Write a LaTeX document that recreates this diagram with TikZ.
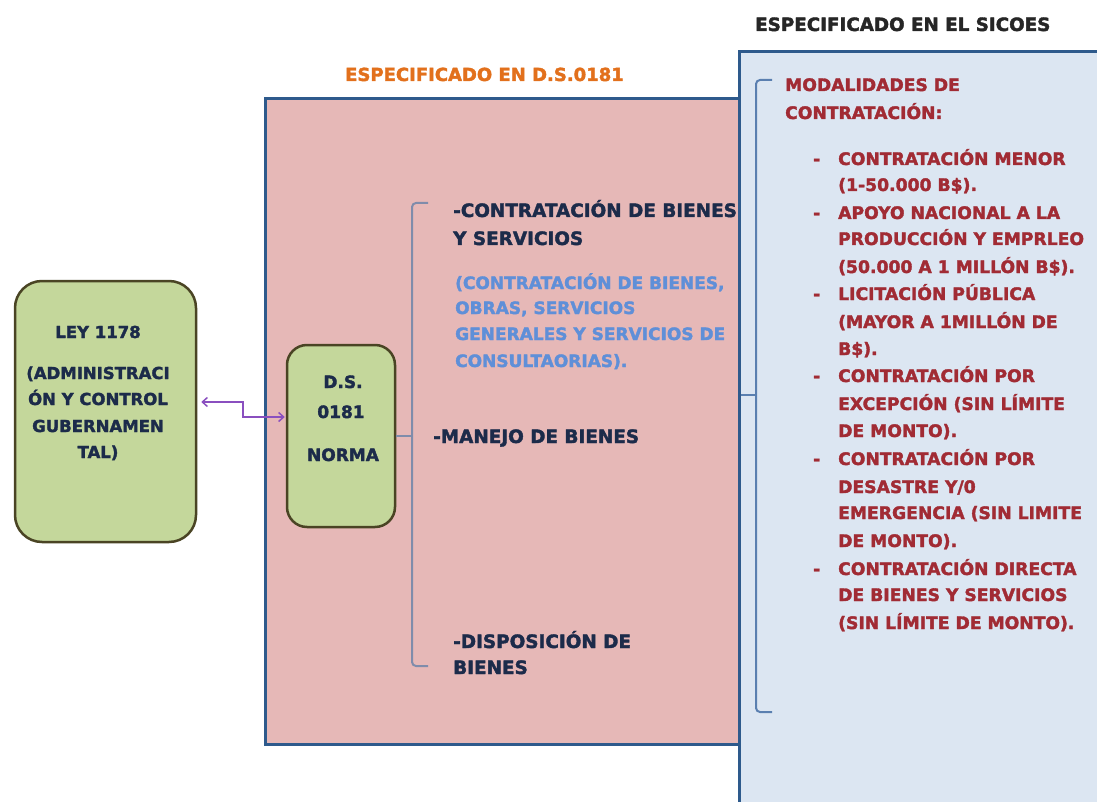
\documentclass[tikz,border=0pt]{standalone}
\usepackage{fontspec}
\setmainfont{DejaVu Sans}[BoldFeatures={FakeBold=2}]
\usetikzlibrary{arrows.meta,calc}
\definecolor{navy}{HTML}{1C2B4A}
\definecolor{lblue}{HTML}{5F8FD8}
\definecolor{dred}{HTML}{A12B34}
\definecolor{orng}{HTML}{E2701C}
\definecolor{pinkf}{HTML}{E6B8B7}
\definecolor{bluef}{HTML}{DCE6F2}
\definecolor{greenf}{HTML}{C4D79B}
\definecolor{greenb}{HTML}{4A4424}
\definecolor{rectb}{HTML}{2E5A8C}
\definecolor{brkp}{HTML}{7F8CAB}
\definecolor{brkb}{HTML}{5A7FB0}
\definecolor{purp}{HTML}{8A4FBF}
\newcommand{\Tx}[5]{\node[#4, anchor=base west] (#1) at (#2,-#3-6) {#5};}
\newcommand{\Tc}[5]{\node[#4, anchor=base] (#1) at (#2,-#3-6) {#5};}
\tikzset{
  txt/.style={inner sep=0pt, font=\bfseries\fontsize{16}{18}\selectfont},
  navytxt/.style={txt, text=navy, font=\bfseries\fontsize{18.4}{20}\selectfont},
  leytxt/.style={txt, text=navy, font=\bfseries\fontsize{16.5}{18}\selectfont},
  dstxt/.style={txt, text=navy, font=\bfseries\fontsize{17}{18}\selectfont},
  lbtxt/.style={txt, text=lblue, font=\bfseries\fontsize{17}{18}\selectfont},
  redtxt/.style={txt, text=dred, font=\bfseries\fontsize{17.2}{18}\selectfont},
  greenbox/.style={draw=greenb, line width=2.5pt, fill=greenf},
  bigrect/.style={draw=rectb, line width=3pt},
  brkp/.style={draw=brkp, line width=2pt, rounded corners=4pt},
  brkb/.style={draw=brkb, line width=2pt, rounded corners=4pt},
  arr/.style={draw=purp, line width=1.5pt, {Straight Barb[length=5pt,width=9pt]}-{Straight Barb[length=5pt,width=9pt]}}
}
\begin{document}
\begin{tikzpicture}[x=1pt,y=1pt]
\useasboundingbox (0,0) rectangle (1097,-802);
\begin{scope}
\clip (0,0) rectangle (1097,-802);
% big rectangles
\path[bigrect, fill=pinkf] (265,-99) rectangle (739,-744);
\path[bigrect, fill=bluef] (739,-52) rectangle (1110,-815);
\end{scope}
% titles
\Tx{t1}{345}{75}{txt, text=orng, font=\bfseries\fontsize{18}{20}\selectfont}{ESPECIFICADO EN D.S.0181}
\Tx{t2}{755}{25}{txt, text=black!85, font=\bfseries\fontsize{18.3}{20}\selectfont}{ESPECIFICADO EN EL SICOES}
% LEY box
\node[greenbox, rounded corners=27pt, minimum width=181pt, minimum height=261pt, inner sep=0pt] (ley) at (105.5,-411.5) {};
\Tc{ley1}{98}{332}{leytxt}{LEY 1178}
\Tc{ley2}{98}{373}{leytxt}{(ADMINISTRACI}
\Tc{ley3}{98}{399}{leytxt}{ÓN Y CONTROL}
\Tc{ley4}{98}{426}{leytxt}{GUBERNAMEN}
\Tc{ley5}{98}{452}{leytxt}{TAL)}
% D.S. box
\node[greenbox, rounded corners=20pt, minimum width=108pt, minimum height=182pt, inner sep=0pt] (ds) at (341,-436) {};
\Tc{ds1}{343}{382}{dstxt}{D.S.}
\Tc{ds2}{341}{412}{dstxt}{0181}
\Tc{ds3}{343}{455}{dstxt}{NORMA}
% arrow
\draw[arr] ([xshift=4pt,yshift=9.5pt]ley.east) -- (243,-402) |- ([xshift=-1pt,yshift=19pt]ds.west);
% pink bracket
\draw[brkp] (428,-203) -- (412,-203) -- (412,-666) -- (428,-666);
\draw[brkp] (ds.east) -- (412,-436);
% pink texts
\Tx{p1}{453}{211}{navytxt}{-CONTRATACIÓN DE BIENES}
\Tx{p2}{453}{239}{navytxt}{Y SERVICIOS}
\Tx{b1}{455}{283}{lbtxt}{(CONTRATACIÓN DE BIENES,}
\Tx{b2}{455}{308}{lbtxt}{OBRAS, SERVICIOS}
\Tx{b3}{455}{334}{lbtxt}{GENERALES Y SERVICIOS DE}
\Tx{b4}{455}{361}{lbtxt}{CONSULTAORIAS).}
\Tx{m1}{433}{437}{navytxt}{-MANEJO DE BIENES}
\Tx{d1}{453}{642}{navytxt}{-DISPOSICIÓN DE}
\Tx{d2}{453}{668}{navytxt}{BIENES}
% blue bracket
\draw[brkb] (772,-80) -- (756,-80) -- (756,-712) -- (772,-712);
\draw[brkb] (756,-395) -- (741,-395);
% red texts
\Tx{r0a}{785}{85}{redtxt}{MODALIDADES DE}
\Tx{r0b}{785}{113}{redtxt}{CONTRATACIÓN:}
\Tx{k1}{813}{159}{redtxt}{-}
\Tx{r1a}{838}{159}{redtxt}{CONTRATACIÓN MENOR}
\Tx{r1b}{838}{185}{redtxt}{(1-50.000 B\$).}
\Tx{k2}{813}{213}{redtxt}{-}
\Tx{r2a}{838}{213}{redtxt}{APOYO NACIONAL A LA}
\Tx{r2b}{838}{239}{redtxt}{PRODUCCIÓN Y EMPRLEO}
\Tx{r2c}{838}{267}{redtxt}{(50.000 A 1 MILLÓN B\$).}
\Tx{k3}{813}{294}{redtxt}{-}
\Tx{r3a}{838}{294}{redtxt}{LICITACIÓN PÚBLICA}
\Tx{r3b}{838}{322}{redtxt}{(MAYOR A 1MILLÓN DE}
\Tx{r3c}{838}{349}{redtxt}{B\$).}
\Tx{k4}{813}{376}{redtxt}{-}
\Tx{r4a}{838}{376}{redtxt}{CONTRATACIÓN POR}
\Tx{r4b}{838}{404}{redtxt}{EXCEPCIÓN (SIN LÍMITE}
\Tx{r4c}{838}{431}{redtxt}{DE MONTO).}
\Tx{k5}{813}{459}{redtxt}{-}
\Tx{r5a}{838}{459}{redtxt}{CONTRATACIÓN POR}
\Tx{r5b}{838}{487}{redtxt}{DESASTRE Y/0}
\Tx{r5c}{838}{513}{redtxt}{EMERGENCIA (SIN LIMITE}
\Tx{r5d}{838}{541}{redtxt}{DE MONTO).}
\Tx{k6}{813}{569}{redtxt}{-}
\Tx{r6a}{838}{569}{redtxt}{CONTRATACIÓN DIRECTA}
\Tx{r6b}{838}{595}{redtxt}{DE BIENES Y SERVICIOS}
\Tx{r6c}{838}{623}{redtxt}{(SIN LÍMITE DE MONTO).}
\end{tikzpicture}
\end{document}
